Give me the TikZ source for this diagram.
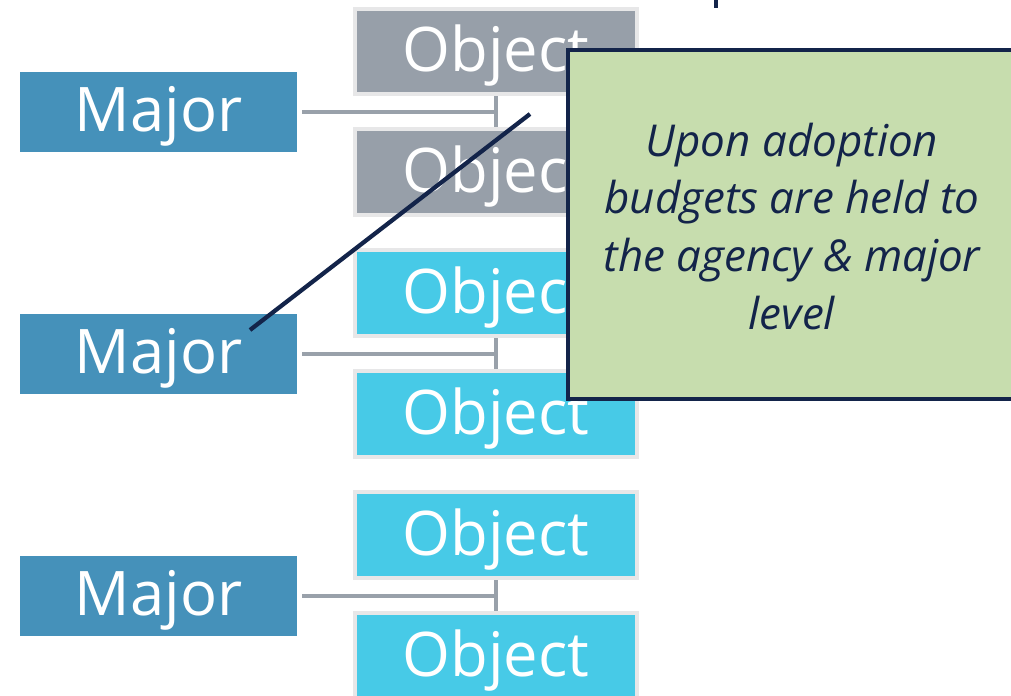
\documentclass[tikz,border=0pt]{standalone}
\usepackage{fontspec}
\setmainfont{Open Sans}
\usepackage{xcolor}
\usetikzlibrary{shapes,arrows,positioning,fit}

\definecolor{majorblue}{HTML}{4591BA}
\definecolor{objgray}{HTML}{979FA9}
\definecolor{objcyan}{HTML}{47CAE7}
\definecolor{edgegray}{HTML}{E7E7E8}
\definecolor{linkgray}{HTML}{99A1AA}
\definecolor{notegreen}{HTML}{C7DDAE}
\definecolor{navy}{HTML}{13244A}

\begin{document}
\begin{tikzpicture}[x=0.02cm, y=-0.02cm, node distance=2.42cm]
    \tikzstyle{major} = [rectangle, fill=majorblue, text=white, minimum width=5.54cm, minimum height=1.6cm, inner sep=0pt, text height=29.5pt, text depth=7pt, font=\fontsize{35}{40}\selectfont]
    \tikzstyle{object} = [rectangle, draw=edgegray, line width=0.08cm, fill=objcyan, text=white, minimum width=5.64cm, minimum height=1.72cm, inner sep=0pt, text height=29.5pt, text depth=7pt, font=\fontsize{35}{40}\selectfont]
    \tikzstyle{old} = [object, fill=objgray]
    \tikzstyle{link} = [draw=linkgray, line width=0.08cm]
    \tikzstyle{note} = [rectangle, draw=navy, line width=0.08cm, fill=notegreen, minimum width=9.4cm, minimum height=6.98cm]
    \tikzstyle{notetext} = [text=navy, align=center, font=\fontsize{25}{33}\selectfont\itshape]
    \tikzstyle{pointer} = [draw=navy, line width=0.085cm]

    \clip (0,0) rectangle (1011,696);
    \useasboundingbox (0,0) rectangle (1011,696);

    % Object column
    \node [old] (ob1) at (496,51.5) {Object};
    \node [old, below of=ob1] (ob2) {Object};
    \node [object, below of=ob2] (ob3) {Object};
    \node [object, below of=ob3] (ob4) {Object};
    \node [object, below of=ob4] (ob5) {Object};
    \node [object, below of=ob5] (ob6) {Object};

    % Majors
    \node [major] (maj1) at (158.5,112) {Major};
    \node [major] (maj2) at (158.5,354) {Major};
    \node [major] (maj3) at (158.5,596) {Major};

    % Links from each major to its pair of objects
    \draw [link] ([xshift=0.1cm]maj1.east) -- (ob1.south |- maj1);
    \draw [link] (ob1.south) -- (ob2.north);
    \draw [link] ([xshift=0.1cm]maj2.east) -- (ob3.south |- maj2);
    \draw [link] (ob3.south) -- (ob4.north);
    \draw [link] ([xshift=0.1cm]maj3.east) -- (ob5.south |- maj3);
    \draw [link] (ob5.south) -- (ob6.north);

    % Callout
    \coordinate (from) at (250,330);
    \coordinate (tip) at (530,114);
    \draw [pointer] (from) -- (tip);
    \coordinate (up) at (716,-5);
    \coordinate (upend) at (716,8);
    \draw [pointer] (up) -- (upend);

    \node [note] (budget) at (803,224.5) {};
    \node [notetext] (budgettext) at (792,226.5) {Upon adoption\\budgets are held to\\the agency \& major\\level};
\end{tikzpicture}
\end{document}
